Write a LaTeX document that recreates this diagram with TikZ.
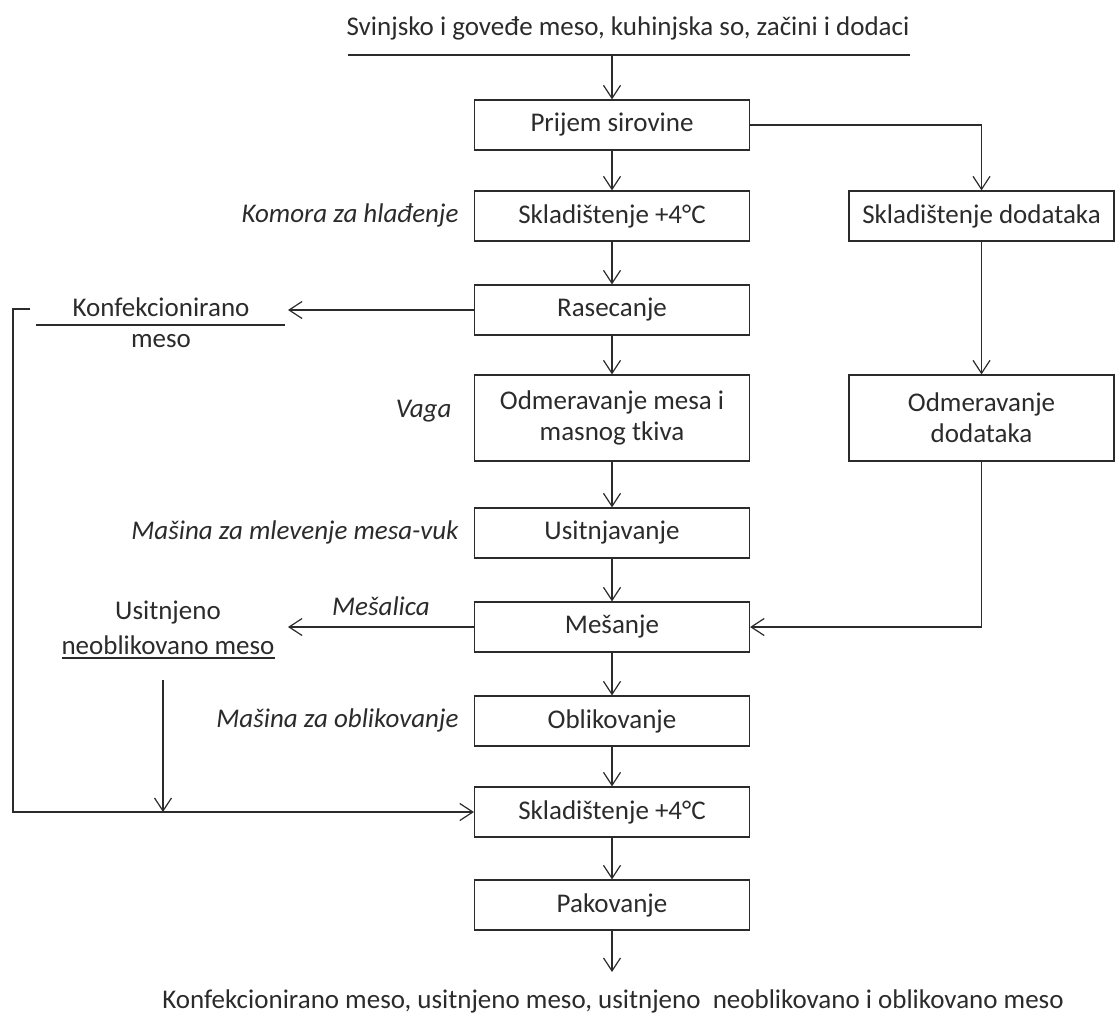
\documentclass[tikz,border=0pt]{standalone}
\usepackage{fontspec}
\setmainfont{Carlito}
\usetikzlibrary{arrows.meta,calc}
\definecolor{ink}{HTML}{2B2B2B}
\begin{document}
\begin{tikzpicture}[x=1pt,y=-1pt,
  every node/.style={font=\fontsize{27}{31}\selectfont, text=ink},
  stepbox/.style={draw=ink, line width=1.2pt, minimum width=275, minimum height=50, align=center, inner sep=0pt},
  sidebox/.style={stepbox, minimum width=265},
  tallbox/.style={minimum height=86},
  tool/.style={anchor=east, font=\fontsize{27}{31}\selectfont\itshape},
  plain/.style={inner sep=0pt, align=center},
  wire/.style={draw=ink, line width=1.2pt},
  arr/.style={wire, -{Straight Barb[length=13pt,width=17pt,line width=1.2pt]}}]
\useasboundingbox (0,0) rectangle (1115,1018);

% input line
\node[plain] (input) at (628,28) {Svinjsko i goveđe meso, kuhinjska so, začini i dodaci};
\coordinate (inL) at (348,55);
\coordinate (inR) at (910,55);
\coordinate (inArr) at (612,55);
\draw[wire] (inL) -- (inR);

% main column
\node[stepbox] (prijem) at (612,125) {Prijem sirovine};
\node[stepbox] (skl1) at (612,216) {Skladištenje +4°C};
\node[stepbox] (ras) at (612,310) {Rasecanje};
\node[stepbox, tallbox] (odm) at (612,418) {Odmeravanje mesa i\\masnog tkiva};
\node[stepbox] (usit) at (612,533) {Usitnjavanje};
\node[stepbox] (mes) at (612,627) {Mešanje};
\node[stepbox] (obl) at (612,721) {Oblikovanje};
\node[stepbox] (skl2) at (612,812) {Skladištenje +4°C};
\node[stepbox] (pak) at (612,905) {Pakovanje};

% side column
\node[sidebox] (skd) at (981.5,216) {Skladištenje dodataka};
\node[sidebox, tallbox] (odd) at (981.5,418) {Odmeravanje\\dodataka};

% equipment labels
\node[tool] (t1) at (462,215) {Komora za hlađenje};
\node[tool] (t2) at (455,411) {Vaga};
\node[tool] (t3) at (462,532) {Mašina za mlevenje mesa-vuk};
\node[tool, anchor=center] (t4) at (381,606) {Mešalica};
\node[tool] (t5) at (462,720) {Mašina za oblikovanje};

% side products
\node[plain] (konfA) at (161,307) {Konfekcionirano};
\node[plain] (konfB) at (161,341) {meso};
\coordinate (konfL) at (36,325);
\coordinate (konfR) at (285,325);
\coordinate (konfIn) at (288,310);
\draw[wire] (konfL) -- (konfR);

\node[plain] (usA) at (168,613) {Usitnjeno};
\node[plain] (usB) at (168,645) {neoblikovano meso};
\coordinate (usL) at (62,658);
\coordinate (usR) at (275,658);
\coordinate (usIn) at (288,627);
\coordinate (usDown) at (163,680);
\coordinate (usEnd) at (163,812);
\draw[wire] (usL) -- (usR);

% output
\node[plain] (output) at (613,1001) {Konfekcionirano meso, usitnjeno meso, usitnjeno\ \ neoblikovano i oblikovano meso};
\coordinate (outEnd) at (612,972);

% main flow
\draw[arr] (inArr) -- (prijem);
\draw[arr] (prijem) -- (skl1);
\draw[arr] (skl1) -- (ras);
\draw[arr] (ras) -- (odm);
\draw[arr] (odm) -- (usit);
\draw[arr] (usit) -- (mes);
\draw[arr] (mes) -- (obl);
\draw[arr] (obl) -- (skl2);
\draw[arr] (skl2) -- (pak);
\draw[arr] (pak) -- (outEnd);

% additives branch
\draw[arr] (prijem.east) -| (skd.north);
\draw[arr] (skd) -- (odd);
\draw[arr] (odd.south) |- (mes.east);

% side outputs
\draw[arr] (ras.west) -- (konfIn);
\draw[arr] (mes.west) -- (usIn);
\draw[arr] (usDown) -- (usEnd);

% return loop to storage
\coordinate (loopStart) at (30,309);
\coordinate (loopCorner) at (13,309);
\draw[arr] (loopStart) -- (loopCorner) |- (skl2.west);
\end{tikzpicture}
\end{document}
